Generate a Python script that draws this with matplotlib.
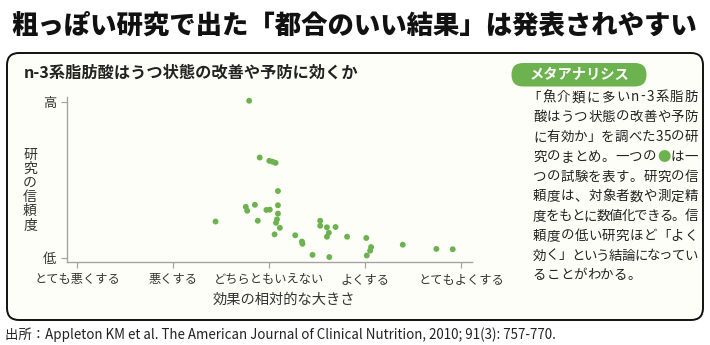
import matplotlib
matplotlib.use('Agg')
import matplotlib.pyplot as plt
from matplotlib.patches import FancyBboxPatch

plt.rcParams['font.family'] = ['Noto Sans CJK JP', 'DejaVu Sans']

# effect size on a -2..2 scale (とても悪くする .. とてもよくする), reliability 0 (低) .. 1 (高)
effect = [-0.21, -0.10, 0.00, 0.035, 0.065, 0.09, -0.245, -0.23, -0.15, -0.03,
          0.005, 0.09, 0.09, -0.56, -0.12, 0.08, 0.07, 0.11, 0.055, 0.27,
          0.34, 0.345, 0.45, 0.53, 0.53, 0.60, 0.62, 0.60, 0.69, 0.625,
          0.81, 1.01, 1.06, 1.05, 1.015, 1.39, 1.74, 1.91]
reliability = [1.005, 0.642, 0.621, 0.615, 0.608, 0.428, 0.327, 0.302, 0.340, 0.307,
               0.309, 0.337, 0.284, 0.233, 0.238, 0.247, 0.225, 0.193, 0.151, 0.145,
               0.105, 0.091, 0.020, 0.238, 0.206, 0.196, 0.161, 0.136, 0.198, 0.006,
               0.136, 0.128, 0.070, 0.047, 0.016, 0.085, 0.058, 0.056]

x_ticks = [-2, -1, 0, 1, 2]
x_labels = ['とても悪くする', '悪くする', 'どちらともいえない', 'よくする', 'とてもよくする']
y_ticks = [0, 1]
y_labels = ['低', '高']

title = '粗っぽい研究で出た「都合のいい結果」は発表されやすい'
subtitle = 'n-3系脂肪酸はうつ状態の改善や予防に効くか'
xlabel = '効果の相対的な大きさ'
ylabel = '研究の信頼度'
badge = 'メタアナリシス'
note_lines = ['「魚介類に多いn-3系脂肪',
              '酸はうつ状態の改善や予防',
              'に有効か」を調べた35の研',
              '究のまとめ。一つの●は一',
              'つの試験を表す。研究の信',
              '頼度は、対象者数や測定精',
              '度をもとに数値化できる。信',
              '頼度の低い研究ほど「よく',
              '効く」という結論になってい',
              'ることがわかる。']
source = '出所：Appleton KM et al. The American Journal of Clinical Nutrition, 2010; 91(3): 757-770.'

green = '#6cb24f'
grey = '#a3a3a3'
ink = '#222222'

fig = plt.figure(figsize=(7.1, 3.45), dpi=100)
fig.patch.set_facecolor('white')

# background axes in pixel units (y downwards)
bg = fig.add_axes([0, 0, 1, 1])
bg.set_xlim(0, 710)
bg.set_ylim(345, 0)
bg.axis('off')

bg.add_patch(FancyBboxPatch((7, 53), 696, 267, boxstyle='round,pad=0,rounding_size=12',
                            fc='#fefef9', ec='#111111', lw=1.4))
bg.text(354, 25, title, ha='center', va='center', fontsize=19, fontweight='heavy', color='#111111')
bg.text(24, 73, subtitle, ha='left', va='center', fontsize=11.7, fontweight='bold', color=ink)
bg.text(30, 190, '\n'.join(ylabel), ha='center', va='center', fontsize=10,
        linespacing=1.02, color='#333333')
bg.text(283.5, 300, xlabel, ha='center', va='center', fontsize=10.3, color='#333333')
bg.text(5, 335, source, ha='left', va='center', fontsize=9.6, color=ink)

# badge
bg.add_patch(FancyBboxPatch((511.5, 63), 135, 23.5, boxstyle='round,pad=0,rounding_size=11.7',
                            fc=green, ec='none'))
bg.text(579, 75, badge, ha='center', va='center', fontsize=10.3, color='white', fontweight='bold')

# note text: justified lines, set character by character
fig.canvas.draw()
renderer = fig.canvas.get_renderer()
note_left = 533
note_right = 698
note_size = 9.7
em = note_size * 100 / 72
line_y = [97.3, 117.3, 137.0, 156.7, 176.5, 196.3, 216.0, 235.7, 255.5, 275.2]

char_w = {}
for ch in set(''.join(note_lines)):
    if ord(ch) > 0x2000:
        char_w[ch] = em
    else:
        t = bg.text(0, 0, ch, fontsize=note_size)
        char_w[ch] = t.get_window_extent(renderer).width
        t.remove()

for i, (y, line) in enumerate(zip(line_y, note_lines)):
    left = note_left - (0.42 * em if line.startswith('「') else 0)
    widths = [char_w[c] for c in line]
    if i < len(note_lines) - 1:
        gap = (note_right - left - sum(widths)) / (len(line) - 1)
    else:
        gap = 0.0
    x = left
    for ch, w in zip(line, widths):
        bg.text(x + w / 2, y, ch, ha='center', va='center', fontsize=note_size,
                color=green if ch == '●' else ink)
        x += w + gap

# scatter axes
ax = fig.add_axes([67 / 710, 1 - 261.7 / 345, 405 / 710, 165 / 345])
ax.set_facecolor('none')
ax.scatter(effect, reliability, s=18, color=green, edgecolors='none', zorder=3, clip_on=False)
ax.set_xlim(-2.107, 2.111)
ax.set_ylim(-0.0236, 1.0307)
ax.set_xticks(x_ticks)
ax.set_xticklabels(x_labels, fontsize=8.8, color='#333333')
ax.set_yticks(y_ticks)
ax.set_yticklabels(y_labels, fontsize=9.5, color='#333333')
ax.tick_params(axis='both', length=4, width=0.9, color=grey, pad=4)
for side in ['top', 'right']:
    ax.spines[side].set_visible(False)
for side in ['left', 'bottom']:
    ax.spines[side].set_color(grey)
    ax.spines[side].set_linewidth(1.0)

fig.savefig('out.png', dpi=100, facecolor='white')
